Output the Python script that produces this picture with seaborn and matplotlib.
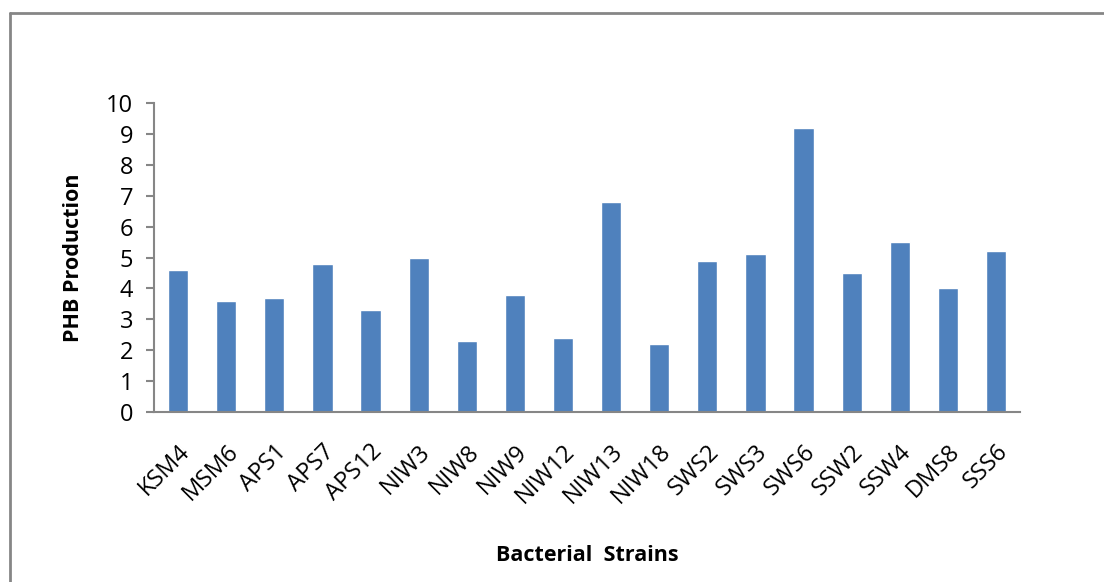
import matplotlib
matplotlib.use("Agg")
import matplotlib.pyplot as plt
from matplotlib.lines import Line2D
import seaborn as sns
import pandas as pd

strains = ["KSM4", "MSM6", "APS1", "APS7", "APS12", "NIW3", "NIW8", "NIW9",
           "NIW12", "NIW13", "NIW18", "SWS2", "SWS3", "SWS6", "SSW2", "SSW4",
           "DMS8", "SSS6"]
phb = [4.6, 3.6, 3.7, 4.8, 3.3, 5.0, 2.3, 3.8, 2.4, 6.8, 2.2, 4.9, 5.1, 9.2,
       4.5, 5.5, 4.0, 5.2]
yticks = list(range(0, 11))

sns.set_style("white")
plt.rcParams["font.family"] = ["Open Sans", "DejaVu Sans"]
plt.rcParams["text.color"] = "black"
plt.rcParams["axes.labelcolor"] = "black"
plt.rcParams["xtick.labelcolor"] = "black"
plt.rcParams["ytick.labelcolor"] = "black"

df = pd.DataFrame({"strain": strains, "phb": phb})

fig = plt.figure(figsize=(11.04, 5.82), dpi=100)
ax = fig.add_axes([0.1395, 0.292, 0.7845, 0.531])

sns.barplot(data=df, x="strain", y="phb", color="#4F81BD", saturation=1,
            width=0.42, ax=ax)

grey = "#868686"
ax.set_ylim(0, 10)
ax.set_yticks(yticks)
ax.set_xlim(-0.5, len(strains) - 0.5)
ax.set_xticks([i - 0.5 for i in range(len(strains) + 1)], minor=True)
ax.set_xticks(range(len(strains)))
ax.set_xticklabels(strains, rotation=45, ha="right", rotation_mode="anchor")
ax.tick_params(axis="x", which="major", length=0, labelsize=17, pad=20)
ax.tick_params(axis="x", which="minor", length=6, color=grey, width=1.5)
ax.tick_params(axis="y", length=6, color=grey, width=1.5, labelsize=17,
               direction="out", left=True, pad=9)
for s in ["top", "right"]:
    ax.spines[s].set_visible(False)
for s in ["left", "bottom"]:
    ax.spines[s].set_color(grey)
    ax.spines[s].set_linewidth(1.5)

ax.set_xlabel("Bacterial  Strains", fontsize=15.5, fontweight="bold",
              labelpad=26)
ax.set_ylabel("PHB Production", fontsize=15.5, fontweight="bold", labelpad=16)

# outer chart frame (only top and left edges visible in the crop)
fig.add_artist(Line2D([10 / 1104, 1.0], [1 - 13 / 582, 1 - 13 / 582],
                      transform=fig.transFigure, color=grey, lw=2))
fig.add_artist(Line2D([10 / 1104, 10 / 1104], [0.0, 1 - 13 / 582],
                      transform=fig.transFigure, color=grey, lw=2))

fig.savefig("out.png", dpi=100)
